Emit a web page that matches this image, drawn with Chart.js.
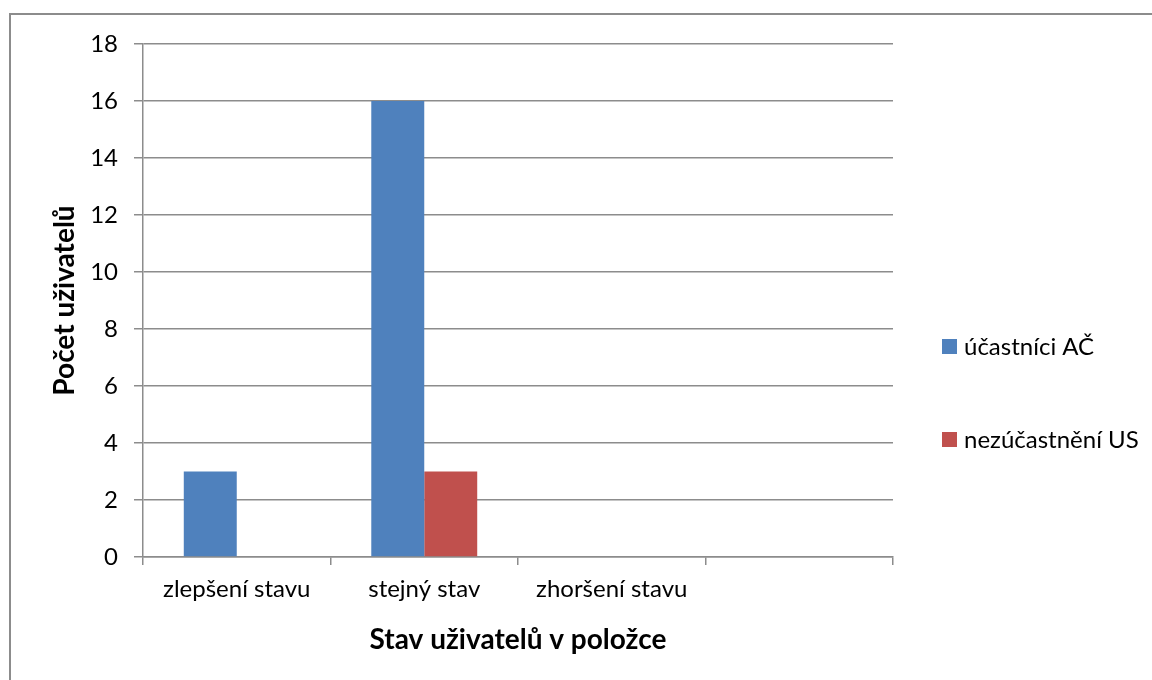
<!DOCTYPE html>
<html lang="cs">
<head>
<meta charset="utf-8">
<script src="https://cdn.jsdelivr.net/npm/chart.js@4/dist/chart.umd.min.js"></script>
<style>
  html, body { margin: 0; padding: 0; background: #ffffff; overflow: hidden; }
  #wrap { position: relative; width: 1152px; height: 680px; }
  #frame { position: absolute; left: 9px; top: 13px; width: 2000px; height: 2000px;
           border: 2px solid #8c8c8c; pointer-events: none; box-sizing: border-box; }
  canvas { position: absolute; left: 0; top: 0; }
</style>
</head>
<body>
<div id="wrap">
  <canvas id="chart" width="1152" height="680"></canvas>
  <div id="frame"></div>
</div>
<script>
// Categories on the horizontal axis (last slot intentionally left blank)
const categories = ["zlepšení stavu", "stejný stav", "zhoršení stavu", ""];
// Number of users per category
const ucastniciAC = [3, 16, 0, null];
const nezucastneniUS = [0, 3, 0, null];
const seriesNames = ["účastníci AČ", "nezúčastnění US"];
const seriesColors = ["#4f81bd", "#c0504d"];
// Vertical axis range
const yMin = 0, yMax = 18, yStep = 2;

const FONT = "Lato, 'Open Sans', sans-serif";
const GRID = "#8c8c8c";

const PLOT_LEFT = 143, PLOT_RIGHT = 893, PLOT_TOP = 44, PLOT_BOTTOM = 557;

// Legend drawn to the right of the plot, items spread vertically
const sideLegend = {
  id: "sideLegend",
  afterDraw(chart) {
    const ctx = chart.ctx;
    ctx.save();
    ctx.font = "24px " + FONT;
    ctx.textBaseline = "middle";
    ctx.textAlign = "left";
    const tops = [339, 432];
    chart.data.datasets.forEach((ds, i) => {
      ctx.fillStyle = ds.backgroundColor;
      ctx.fillRect(942, tops[i], 15, 15);
      ctx.fillStyle = "#000000";
      ctx.fillText(ds.label, 964, tops[i] + 8);
    });
    ctx.restore();
  }
};

new Chart(document.getElementById("chart"), {
  type: "bar",
  data: {
    labels: categories,
    datasets: [
      { label: seriesNames[0], data: ucastniciAC, backgroundColor: seriesColors[0] },
      { label: seriesNames[1], data: nezucastneniUS, backgroundColor: seriesColors[1] }
    ]
  },
  options: {
    responsive: false,
    animation: false,
    devicePixelRatio: 1,
    layout: { padding: { left: 0, right: 1152 - PLOT_RIGHT, top: PLOT_TOP, bottom: 0 } },
    datasets: { bar: { categoryPercentage: 0.565, barPercentage: 1.0 } },
    plugins: {
      legend: { display: false },
      tooltip: { enabled: false }
    },
    scales: {
      x: {
        grid: { display: true, drawOnChartArea: false, offset: true, color: GRID, lineWidth: 1.5, tickLength: 8 },
        border: { color: GRID, width: 1.5 },
        ticks: { color: "#000000", font: { family: FONT, size: 24 }, padding: 10, maxRotation: 0, autoSkip: false },
        title: { display: true, text: "Stav uživatelů v položce", color: "#000000",
                 font: { family: FONT, size: 28, weight: "bold" }, padding: { top: 4, bottom: 23 } },
        afterFit(scale) { scale.height = 680 - PLOT_BOTTOM; }
      },
      y: {
        min: yMin, max: yMax,
        grid: { color: GRID, lineWidth: 1.5, tickLength: 9 },
        border: { color: GRID, width: 1.5 },
        ticks: { stepSize: yStep, color: "#000000", font: { family: FONT, size: 24 }, padding: 16 },
        title: { display: true, text: "Počet uživatelů", color: "#000000",
                 font: { family: FONT, size: 28, weight: "bold" }, padding: { top: 48, bottom: 4 } },
        afterFit(scale) { scale.width = PLOT_LEFT; }
      }
    }
  },
  plugins: [sideLegend]
});
</script>
</body>
</html>
